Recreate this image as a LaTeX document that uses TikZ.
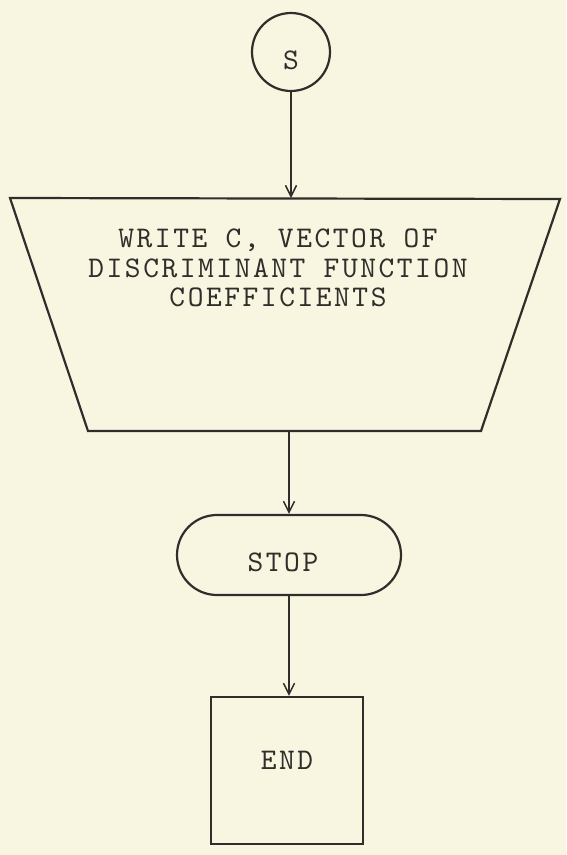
\documentclass[tikz,border=0pt]{standalone}
\usepackage{fontspec}
\newfontfamily\tw{lmmono10-regular}[Extension=.otf, LetterSpace=8.5]
\usetikzlibrary{arrows.meta, shapes.misc}
\definecolor{paper}{RGB}{248,246,225}
\definecolor{ink}{RGB}{48,46,42}

\tikzset{
  box/.style={draw=ink, line width=2.2pt},
  txt/.style={text=ink, font=\tw\fontsize{30}{29.5}\selectfont, inner sep=0pt, align=center},
  flow/.style={draw=ink, line width=1.8pt, -{Straight Barb[length=11pt, width=11pt, line width=1.5pt]}},
}

\begin{document}
\begin{tikzpicture}[x=1pt, y=-1pt]
  % page and paper tone
  \fill[paper] (0,0) rectangle (566,855);
  \useasboundingbox (0,0) rectangle (566,855);

  % start connector
  \node[box, circle, minimum size=78pt, inner sep=0pt] (s) at (291,52) {};
  \node[txt] (slbl) at (291,60) {S};

  % output block (trapezoid, wide at the top)
  \coordinate (wtl) at (10,198);
  \coordinate (wtr) at (560,199);
  \coordinate (wbr) at (481,431);
  \coordinate (wbl) at (88,431);
  \draw[box, line join=miter] (wtl) -- (wtr) -- (wbr) -- (wbl) -- cycle;
  \node[txt] (wlbl) at (278,268) {WRITE C, VECTOR OF\\DISCRIMINANT FUNCTION\\COEFFICIENTS};

  % terminal
  \node[box, rounded rectangle, minimum width=224pt, minimum height=80pt, inner sep=0pt] (stop) at (289,555) {};
  \node[txt] (stoplbl) at (283,562) {STOP};

  % end block
  \node[box, rectangle, minimum width=152pt, minimum height=147pt, inner sep=0pt] (end) at (287,770.5) {};
  \node[txt] (endlbl) at (287,760) {END};

  % connectors
  \draw[flow] (s.south) -- (s.south |- wtl);
  \draw[flow] (stop.north |- wbl) -- (stop.north);
  \draw[flow] (stop.south) -- (stop.south |- end.north);
\end{tikzpicture}
\end{document}
